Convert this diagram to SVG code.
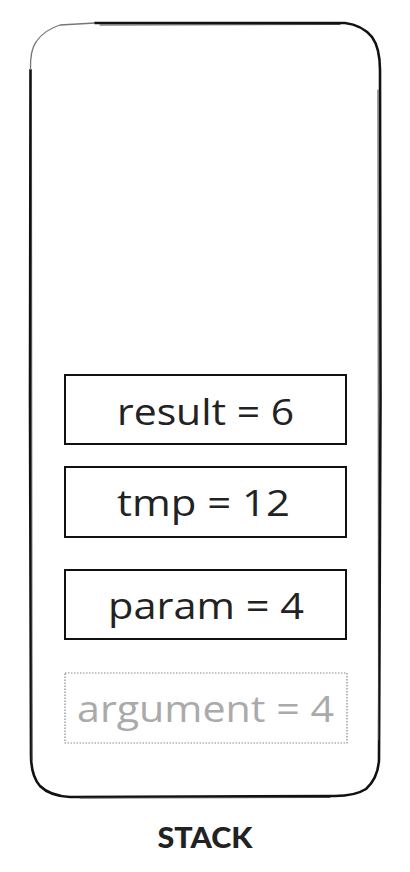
<svg xmlns="http://www.w3.org/2000/svg" width="410" height="872" viewBox="0 0 410 872">
<style>
.box{fill:#fff;stroke:#111;stroke-width:2}
.lbl{font-family:"Open Sans","Noto Sans",sans-serif;font-size:36px;fill:#222;text-anchor:middle}
.ghost{fill:#fff;stroke:#888;stroke-width:1.2;stroke-dasharray:1.5 1.5}
.ghosttxt{fill:#aaa}
.frame{fill:none;stroke:#111;stroke-width:2.6;stroke-linecap:round;stroke-linejoin:round}
.frame2{fill:none;stroke:#444;stroke-width:1;stroke-linecap:round}
.title{font-family:Lato,"Noto Sans",sans-serif;font-size:28px;font-weight:900;fill:#222;text-anchor:middle}
</style>
<rect width="410" height="872" fill="#fff"/>
<g id="stack">
<path class="frame" d="M95 23 L345 23 Q362 25 372 37 Q380 48 380 70 L380.5 400 L379 760 Q378 778 366 789 Q355 796 335 796 L70 797 Q50 796 40 786 Q31 776 31 755 L30 400 L30.5 70"/>
<path d="M30.5 70 Q30 50 36 42 Q44 30 60 25 L95 23" fill="none" stroke="#777" stroke-width="1.3"/>
<path class="frame2" d="M100 25 L340 24.5 M378 90 L378.5 740 M32 760 L31.5 100 M80 798 L330 797.5"/>
</g>
<g id="result">
<rect class="box" x="65" y="375" width="281" height="69"/>
<text class="lbl" x="205.5" y="425" textLength="177" lengthAdjust="spacingAndGlyphs">result = 6</text>
</g>
<g id="tmp">
<rect class="box" x="65" y="467" width="281" height="70"/>
<text class="lbl" x="203.5" y="516" textLength="173" lengthAdjust="spacingAndGlyphs">tmp = 12</text>
</g>
<g id="param">
<rect class="box" x="65" y="570" width="281" height="69"/>
<text class="lbl" x="206" y="619" textLength="196" lengthAdjust="spacingAndGlyphs">param = 4</text>
</g>
<g id="argument">
<rect class="ghost" x="65" y="673" width="282" height="70"/>
<text class="lbl ghosttxt" x="205.5" y="722" textLength="257" lengthAdjust="spacingAndGlyphs">argument = 4</text>
</g>
<g id="label">
<text class="title" x="205" y="848" textLength="95" lengthAdjust="spacingAndGlyphs">STACK</text>
</g>
<g id="connectors"></g>
</svg>
